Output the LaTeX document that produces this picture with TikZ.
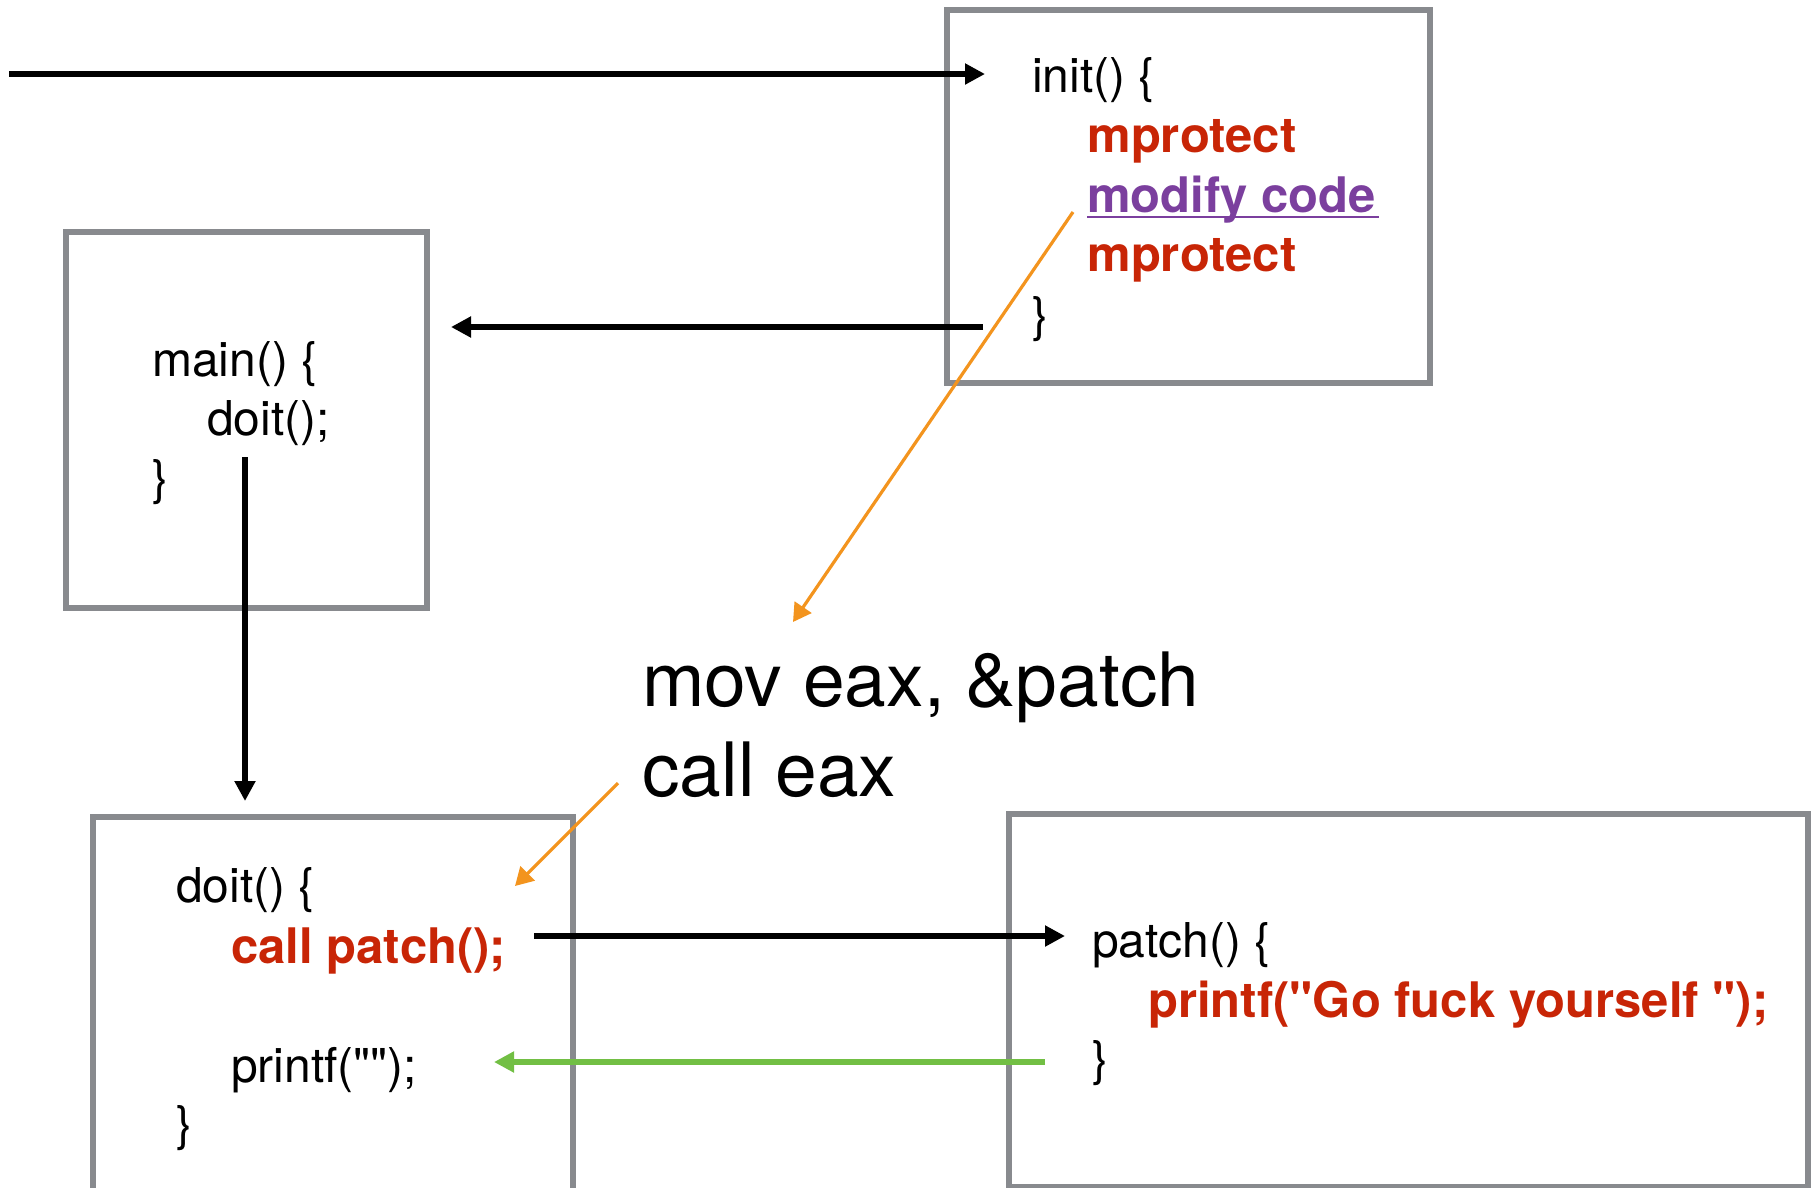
\documentclass[tikz,border=0pt]{standalone}
\usepackage{fontspec}
\setmainfont{TeX Gyre Heros}[Ligatures=TeXOff]
\usetikzlibrary{arrows.meta}
\definecolor{boxgray}{RGB}{136,138,142}
\definecolor{codered}{RGB}{200,37,6}
\definecolor{codepurple}{RGB}{123,63,158}
\definecolor{arrorange}{RGB}{243,148,30}
\definecolor{arrgreen}{RGB}{114,191,68}
\begin{document}
\begin{tikzpicture}[x=1pt,y=-1pt,
  codebox/.style={draw=boxgray,line width=5.5pt,anchor=north west,inner sep=0pt},
  plain/.style={anchor=base west,inner sep=0pt,font=\fontsize{48}{58}\selectfont},
  hot/.style={anchor=base west,inner sep=0pt,font=\fontsize{49}{58}\selectfont\bfseries,text=codered},
  mod/.style={anchor=base west,inner sep=0pt,font=\fontsize{49}{58}\selectfont\bfseries,text=codepurple},
  big/.style={anchor=base west,inner sep=0pt,font=\fontsize{75}{90}\selectfont},
  blackarrow/.style={line width=5.3pt,-{Triangle[length=20pt,width=20pt]}},
  orangearrow/.style={draw=arrorange,line width=3.2pt,-{Triangle[length=18pt,width=20pt]}},
  greenarrow/.style={draw=arrgreen,line width=5.3pt,-{Triangle[length=20pt,width=20pt]}}
]
\useasboundingbox (0,0) rectangle (1814,1187);
\clip (0,0) rectangle (1814,1187);

% boxes
\node[codebox,minimum width=483pt,minimum height=373pt] (initbox) at (944,7) {};
\node[codebox,minimum width=361pt,minimum height=376pt] (mainbox) at (63,229) {};
\node[codebox,minimum width=480pt,minimum height=420pt] (doitbox) at (90,814) {};
\node[codebox,minimum width=799pt,minimum height=373pt] (patchbox) at (1006,811) {};

% init
\node[plain] (initl) at (1032,92) {init() \{};
\node[hot] (mp1) at (1087,152) {mprotect};
\node[mod] (modc) at (1087,212) {modify code};
\draw[codepurple,line width=2.5pt] (modc.base west) ++(0,5) -- ++(292,0);
\node[hot] (mp2) at (1087,271) {mprotect};
\node[plain] (initc) at (1032,331) {\}};

% main
\node[plain] (mainl) at (152,376) {main() \{};
\node[plain] (maind) at (207,435) {doit();};
\node[plain] (mainc) at (152,494) {\}};

% doit
\node[plain] (doitl) at (176,902) {doit() \{};
\node[hot] (callp) at (231,963) {call patch();};
\node[plain] (printl) at (231,1082) {printf("");};
\node[plain] (doitc) at (176,1140) {\}};

% patch
\node[plain] (patchl) at (1092,957) {patch() \{};
\node[hot] (pf) at (1148,1017) {printf("Go fuck yourself ");};
\node[plain] (patchc) at (1092,1075) {\}};

% asm
\node[big] (mov) at (642,706) {mov eax, \&patch};
\node[big] (calle) at (642,796) {call eax};

% connector end points
\coordinate (a1s) at (9,74);
\coordinate (a1e) at (985,74);
\coordinate (a2s) at (983,327);
\coordinate (a2e) at (451,327);
\coordinate (a3s) at (245,457);
\coordinate (a3e) at (245,801);
\coordinate (o1s) at (1073,212);
\coordinate (o1e) at (793,622);
\coordinate (o2s) at (618,783);
\coordinate (o2e) at (515,886);
\coordinate (a6s) at (534,936);
\coordinate (a6e) at (1065,936);
\coordinate (g1s) at (1045,1062);
\coordinate (g1e) at (494,1062);

\draw[blackarrow] (a1s) -- (a1e);
\draw[blackarrow] (a2s) -- (a2e);
\draw[blackarrow] (a3s) -- (a3e);
\draw[orangearrow] (o1s) -- (o1e);
\draw[orangearrow] (o2s) -- (o2e);
\draw[blackarrow] (a6s) -- (a6e);
\draw[greenarrow] (g1s) -- (g1e);
\end{tikzpicture}
\end{document}
